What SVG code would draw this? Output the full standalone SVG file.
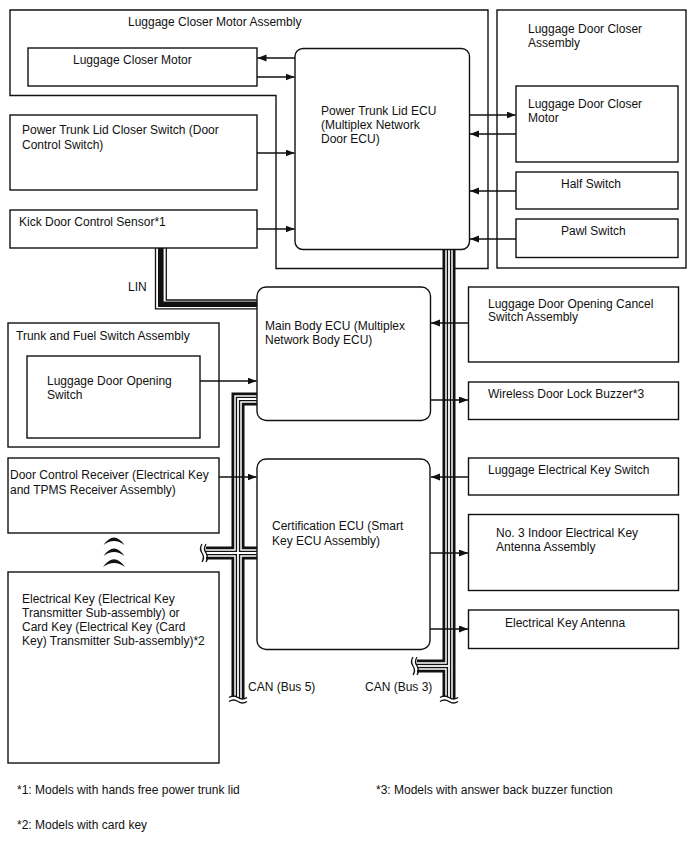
<svg xmlns="http://www.w3.org/2000/svg" xmlns:xlink="http://www.w3.org/1999/xlink" width="688" height="852" viewBox="0 0 688 852">
<style>
text{font-family:"Liberation Sans",Arial,sans-serif;font-size:12px;fill:#111}
.box{fill:#fff;stroke:#111;stroke-width:1.4}
.ol{fill:none;stroke:#111;stroke-width:1.4}
.ar{fill:none;stroke:#111;stroke-width:1.3;marker-end:url(#ah)}
.wv{fill:none;stroke:#111;stroke-width:1.3}
.wvw{fill:none;stroke:#fff;stroke-width:2.6}
</style>
<defs>
<marker id="ah" markerUnits="userSpaceOnUse" markerWidth="10" markerHeight="8" refX="9" refY="3.5" orient="auto">
<path d="M0,0 L9,3.5 L0,7 z" fill="#111"/>
</marker>
<path id="b5" d="M257,399 H238 V699"/>
<path id="b5b" d="M206,553 H257"/>
<path id="b3" d="M449,249 V699"/>
<path id="b3b" d="M417,666 H449"/>
</defs>
<rect width="688" height="852" fill="#fff"/>

<g id="outlines">
<polygon class="ol" points="10,10 488,10 488,268.5 276,268.5 276,95.5 10,95.5"/>
<text x="128" y="26">Luggage Closer Motor Assembly</text>
<rect class="ol" x="497" y="10" width="189" height="258"/>
<text x="528" y="32.5">Luggage Door Closer</text>
<text x="528" y="46.5">Assembly</text>
<rect class="ol" x="8" y="323" width="211" height="124"/>
<text x="16" y="340">Trunk and Fuel Switch Assembly</text>
</g>

<g id="connectors">
<g id="lin" fill="none" stroke="#111">
<path d="M155.5,248 V308.8 H257" stroke-width="1.3"/>
<path d="M160.8,248 V304.3 H257" stroke-width="5.6"/>
<path d="M166.3,248 V300 H257" stroke-width="1.3"/>
</g>
<g id="can" fill="none">
<g stroke="#111" stroke-width="13"><use xlink:href="#b5"/><use xlink:href="#b5b"/><use xlink:href="#b3"/><use xlink:href="#b3b"/></g>
<g stroke="#fff" stroke-width="7.5"><use xlink:href="#b5"/><use xlink:href="#b5b"/><use xlink:href="#b3"/><use xlink:href="#b3b"/></g>
<g stroke="#111" stroke-width="4.5"><use xlink:href="#b5"/><use xlink:href="#b5b"/><use xlink:href="#b3"/><use xlink:href="#b3b"/></g>
<g stroke="#fff" stroke-width="1.8"><use xlink:href="#b5"/><use xlink:href="#b5b"/><use xlink:href="#b3"/><use xlink:href="#b3b"/></g>
</g>
<g id="breaks">
<path class="wvw" d="M229,699.5 q4.5,-3 9,0 t9,0"/>
<path class="wv" d="M229,697.5 q4.5,-3 9,0 t9,0"/>
<path class="wv" d="M229,701.5 q4.5,-3 9,0 t9,0"/>
<path class="wvw" d="M440,699.5 q4.5,-3 9,0 t9,0"/>
<path class="wv" d="M440,697.5 q4.5,-3 9,0 t9,0"/>
<path class="wv" d="M440,701.5 q4.5,-3 9,0 t9,0"/>
<path class="wv" d="M206,544 q-3,4.5 0,9 t0,9"/>
<path class="wv" d="M202,544 q-3,4.5 0,9 t0,9"/>
<path class="wv" d="M417,657 q-3,4.5 0,9 t0,9"/>
<path class="wv" d="M413,657 q-3,4.5 0,9 t0,9"/>
</g>
<text x="128" y="291">LIN</text>
<text x="248" y="691">CAN (Bus 5)</text>
<text x="365" y="691">CAN (Bus 3)</text>
</g>

<g id="luggage-closer-motor"><rect class="box" x="28" y="48" width="229" height="38"/><text x="73" y="64">Luggage Closer Motor</text></g>
<g id="power-trunk-lid-closer-switch"><rect class="box" x="10" y="115" width="247" height="75"/><text x="22" y="134">Power Trunk Lid Closer Switch (Door</text><text x="22" y="149">Control Switch)</text></g>
<g id="kick-door-control-sensor"><rect class="box" x="10" y="210" width="247" height="38"/><text x="19" y="226">Kick Door Control Sensor*1</text></g>
<g id="power-trunk-lid-ecu"><rect class="box" x="295" y="48.5" width="174.5" height="201" rx="8"/><text x="321" y="115">Power Trunk Lid ECU</text><text x="321" y="129">(Multiplex Network</text><text x="321" y="143">Door ECU)</text></g>
<g id="luggage-door-closer-motor"><rect class="box" x="516" y="86" width="162" height="76"/><text x="528" y="108">Luggage Door Closer</text><text x="528" y="122">Motor</text></g>
<g id="half-switch"><rect class="box" x="516" y="172" width="162" height="37"/><text x="561" y="188">Half Switch</text></g>
<g id="pawl-switch"><rect class="box" x="516" y="219" width="162" height="38.5"/><text x="561" y="235">Pawl Switch</text></g>
<g id="main-body-ecu"><rect class="box" x="257" y="287" width="173.5" height="133.5" rx="9"/><text x="265" y="330">Main Body ECU (Multiplex</text><text x="265" y="344">Network Body ECU)</text></g>
<g id="luggage-door-opening-switch"><rect class="box" x="27" y="356" width="173" height="82"/><text x="47" y="385">Luggage Door Opening</text><text x="47" y="399">Switch</text></g>
<g id="luggage-door-opening-cancel-switch"><rect class="box" x="468.5" y="287" width="210" height="75"/><text x="488" y="307.5">Luggage Door Opening Cancel</text><text x="488" y="321">Switch Assembly</text></g>
<g id="wireless-door-lock-buzzer"><rect class="box" x="468.5" y="382" width="210" height="37.5"/><text x="488" y="397.5">Wireless Door Lock Buzzer*3</text></g>
<g id="door-control-receiver"><rect class="box" x="8" y="458" width="211" height="75"/><text x="10" y="479">Door Control Receiver (Electrical Key</text><text x="10" y="494">and TPMS Receiver Assembly)</text></g>
<g id="wireless-signal">
<path d="M103.5,545 Q114,530 124.5,545 Q114,537 103.5,545 Z" fill="#111"/>
<path d="M103.5,556 Q114,541 124.5,556 Q114,548 103.5,556 Z" fill="#111"/>
<path d="M103,567 Q114,551.5 125,567 Q114,559 103,567 Z" fill="#111"/>
</g>
<g id="electrical-key"><rect class="box" x="8" y="572" width="211" height="191"/><text x="22" y="603">Electrical Key (Electrical Key</text><text x="22" y="617">Transmitter Sub-assembly) or</text><text x="22" y="631">Card Key (Electrical Key (Card</text><text x="22" y="645">Key) Transmitter Sub-assembly)*2</text></g>
<g id="certification-ecu"><rect class="box" x="257" y="459" width="173" height="190.5" rx="9"/><text x="272" y="530">Certification ECU (Smart</text><text x="272" y="545">Key ECU Assembly)</text></g>
<g id="luggage-electrical-key-switch"><rect class="box" x="468.5" y="458" width="210" height="37"/><text x="488" y="473.5">Luggage Electrical Key Switch</text></g>
<g id="no3-indoor-antenna"><rect class="box" x="468.5" y="514.5" width="210" height="76"/><text x="496" y="537">No. 3 Indoor Electrical Key</text><text x="496" y="550.5">Antenna Assembly</text></g>
<g id="electrical-key-antenna"><rect class="box" x="468.5" y="610" width="210" height="38.5"/><text x="505" y="627">Electrical Key Antenna</text></g>

<g id="arrows">
<path class="ar" d="M295,58 H257.5"/>
<path class="ar" d="M257,77 H294.5"/>
<path class="ar" d="M257,153 H294.5"/>
<path class="ar" d="M257,229 H294.5"/>
<path class="ar" d="M469.5,115 H515.5"/>
<path class="ar" d="M516,134 H470"/>
<path class="ar" d="M516,191 H470"/>
<path class="ar" d="M516,239 H470"/>
<path class="ar" d="M200,381 H256.5"/>
<path class="ar" d="M468.5,323 H431"/>
<path class="ar" d="M430.5,400 H468"/>
<path class="ar" d="M219,477 H256.5"/>
<path class="ar" d="M468.5,477 H431"/>
<path class="ar" d="M430,553 H468"/>
<path class="ar" d="M430,629 H468"/>
</g>

<g id="notes">
<text x="17" y="794">*1: Models with hands free power trunk lid</text>
<text x="376" y="794">*3: Models with answer back buzzer function</text>
<text x="17" y="829">*2: Models with card key</text>
</g>
</svg>
